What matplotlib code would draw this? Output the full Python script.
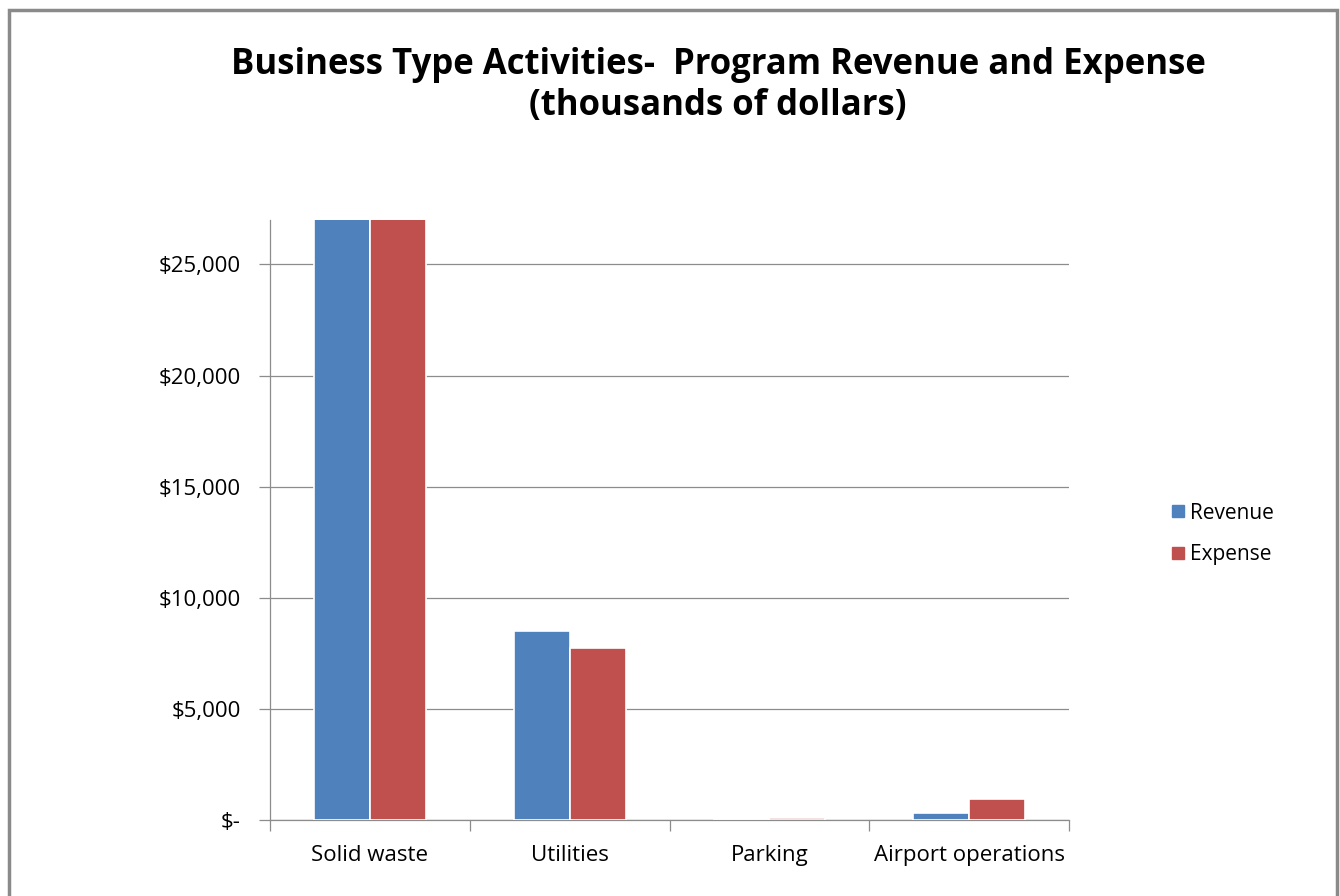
import numpy as np
import matplotlib
matplotlib.use("Agg")
import matplotlib.pyplot as plt
from matplotlib.ticker import FuncFormatter
from matplotlib.lines import Line2D

plt.rcParams['font.family'] = ['Open Sans', 'DejaVu Sans']

# Data (thousands of dollars) - Solid waste bars run past the top of the axis
categories = ["Solid waste", "Utilities", "Parking", "Airport operations"]
revenue = [29000, 8500, 20, 300]
expense = [28800, 7750, 90, 950]
series_names = ["Revenue", "Expense"]
colors = ["#4F81BD", "#C0504D"]
yticks = [0, 5000, 10000, 15000, 20000, 25000]

fig = plt.figure(figsize=(13.4, 8.96), dpi=100)
ax = fig.add_axes([0.2015, 0.0848, 0.5963, 0.6697])

x = np.arange(len(categories))
w = 0.28
ax.bar(x - w / 2, revenue, w, color=colors[0], edgecolor="white", linewidth=1.2, zorder=3)
ax.bar(x + w / 2, expense, w, color=colors[1], edgecolor="white", linewidth=1.2, zorder=3)

ax.set_xlim(-0.5, len(categories) - 0.5)
ax.set_ylim(0, 27000)

# y axis
ax.set_yticks(yticks)
ax.yaxis.set_major_formatter(FuncFormatter(lambda v, p: "$-" if v == 0 else f"${v:,.0f}"))
ax.yaxis.grid(True, color="#8c8c8c", linewidth=0.9, zorder=0)
ax.tick_params(axis="y", length=8, width=0.9, color="#8c8c8c", labelsize=16, pad=13)

# x axis: category labels centred, tick marks at boundaries
ax.set_xticks(x)
ax.set_xticklabels(categories, fontsize=16)
ax.tick_params(axis="x", length=0, pad=18)
ax.set_xticks(np.arange(len(categories) + 1) - 0.5, minor=True)
ax.tick_params(axis="x", which="minor", length=8, width=0.9, color="#8c8c8c")

for s in ["top", "right"]:
    ax.spines[s].set_visible(False)
for s in ["left", "bottom"]:
    ax.spines[s].set_color("#8c8c8c")
    ax.spines[s].set_linewidth(0.9)

fig.text(0.536, 0.928, "Business Type Activities-  Program Revenue and Expense",
         ha="center", va="center", fontsize=25, fontweight="bold")
fig.text(0.536, 0.882, "(thousands of dollars)",
         ha="center", va="center", fontsize=25, fontweight="bold")

handles = [Line2D([], [], marker="s", linestyle="none", markersize=9,
                  markerfacecolor=c, markeredgecolor=c) for c in colors]
fig.legend(handles, series_names, loc="center left", bbox_to_anchor=(0.857, 0.404),
           frameon=False, fontsize=15, handletextpad=0.1, labelspacing=1.0,
           handlelength=1.0)

# outer frame (bottom edge falls outside the image)
frame = plt.Rectangle((9 / 1340, -0.05), (1337 - 9) / 1340, 1.05 - 10 / 896,
                      transform=fig.transFigure, fill=False,
                      edgecolor="#8a8a8a", linewidth=2.5)
fig.patches.append(frame)

fig.savefig("out.png", dpi=100)
